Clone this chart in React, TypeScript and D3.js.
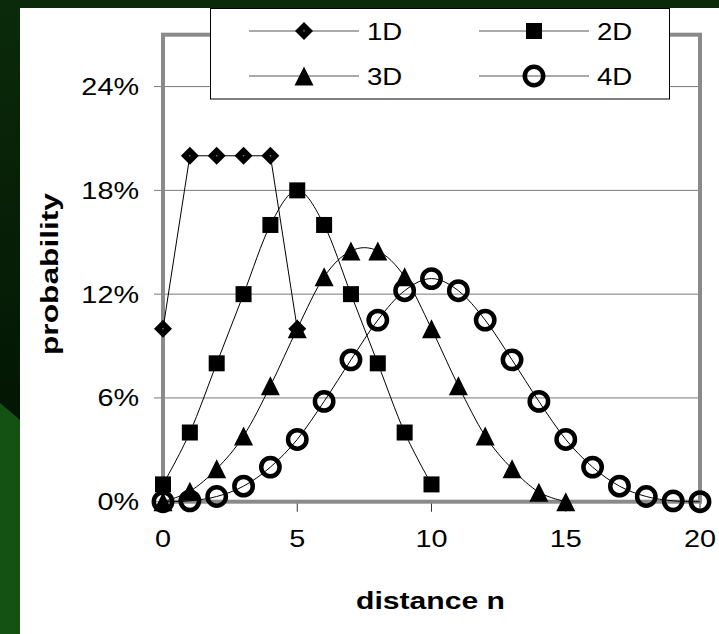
import React, { useEffect, useRef } from "react";
import * as d3 from "d3";

// probability (%) at distance n = 0, 1, 2, ...
const p1D = [10, 20, 20, 20, 20, 10];
const p2D = [1, 4, 8, 12, 16, 18, 16, 12, 8, 4, 1];
const p3D = [0, 0.6, 1.9, 3.8, 6.7, 10, 13, 14.5, 14.5, 13, 10, 6.7, 3.8, 1.9, 0.55, 0];
const p4D = [0, 0.05, 0.3, 0.9, 2.0, 3.6, 5.8, 8.2, 10.5, 12.2, 12.9, 12.2, 10.5, 8.2, 5.8, 3.6, 2.0, 0.9, 0.3, 0.05, 0];

const seriesNames = ["1D", "2D", "3D", "4D"];
const markerTypes = ["diamond", "square", "triangle", "circle"];
const yTicks = [0, 6, 12, 18, 24];
const xTicks = [0, 5, 10, 15, 20];

const W = 719;
const H = 634;
const FONT = "'Liberation Sans', Arial, sans-serif";

const App: React.FC = () => {
    const svgRef = useRef<SVGSVGElement | null>(null);

    useEffect(() => {
        if (!svgRef.current) return;
        const svg = d3.select(svgRef.current);
        svg.selectAll("*").remove();

        // background (slide)
        const defs = svg.append("defs");
        const grad = defs
            .append("linearGradient")
            .attr("id", "leftDark")
            .attr("x1", 0).attr("y1", 0).attr("x2", 0).attr("y2", 1);
        grad.append("stop").attr("offset", "0%").attr("stop-color", "#0b2a0b");
        grad.append("stop").attr("offset", "100%").attr("stop-color", "#031603");

        svg.append("rect").attr("width", W).attr("height", H).attr("fill", "#0a2a0a");
        svg.append("path")
            .attr("d", "M0,0 L20,0 L20,420 L0,403 Z")
            .attr("fill", "url(#leftDark)");
        svg.append("path")
            .attr("d", `M0,403 L20,420 L20,${H} L0,${H} Z`)
            .attr("fill", "#135213");
        svg.append("rect")
            .attr("x", 20).attr("y", 8)
            .attr("width", W - 20).attr("height", H - 8)
            .attr("fill", "#ffffff");

        const left = 163, right = 700, top = 34.7, bottom = 501.7;

        const x = d3.scaleLinear().domain([0, 20]).range([left, right]);
        const y = d3.scaleLinear().domain([0, 27]).range([bottom, top]);

        // gridlines + y ticks
        svg.append("g")
            .selectAll("line")
            .data(yTicks.filter((t) => t > 0))
            .join("line")
            .attr("x1", left - 9)
            .attr("x2", right)
            .attr("y1", (d) => y(d))
            .attr("y2", (d) => y(d))
            .attr("stroke", "#7a7a7a")
            .attr("stroke-width", 1);

        svg.append("line")
            .attr("x1", left - 9).attr("x2", left)
            .attr("y1", y(0)).attr("y2", y(0))
            .attr("stroke", "#7a7a7a");

        // x ticks
        svg.append("g")
            .selectAll("line")
            .data(xTicks)
            .join("line")
            .attr("x1", (d) => x(d))
            .attr("x2", (d) => x(d))
            .attr("y1", bottom)
            .attr("y2", bottom + 10)
            .attr("stroke", "#333")
            .attr("stroke-width", 1);

        // frame
        svg.append("rect")
            .attr("x", left).attr("y", top)
            .attr("width", right - left).attr("height", bottom - top)
            .attr("fill", "none")
            .attr("stroke", "#8a8a8a")
            .attr("stroke-width", 4);

        // tick labels
        svg.append("g")
            .selectAll("text")
            .data(yTicks)
            .join("text")
            .attr("transform", (d) => `translate(139,${y(d) + 8.5}) scale(1.2,1)`)
            .attr("text-anchor", "end")
            .attr("font-family", FONT)
            .attr("font-size", 24)
            .attr("fill", "#000")
            .text((d) => `${d}%`);

        svg.append("g")
            .selectAll("text")
            .data(xTicks)
            .join("text")
            .attr("transform", (d) => `translate(${x(d)},${bottom + 45}) scale(1.2,1)`)
            .attr("text-anchor", "middle")
            .attr("font-family", FONT)
            .attr("font-size", 24)
            .attr("fill", "#000")
            .text((d) => `${d}`);

        // axis titles
        svg.append("text")
            .attr("x", 430.5)
            .attr("y", 609)
            .attr("text-anchor", "middle")
            .attr("font-family", FONT)
            .attr("font-weight", "bold")
            .attr("font-size", 23)
            .attr("textLength", 149)
            .attr("lengthAdjust", "spacingAndGlyphs")
            .text("distance n");

        svg.append("text")
            .attr("transform", "translate(58,274) rotate(-90)")
            .attr("text-anchor", "middle")
            .attr("font-family", FONT)
            .attr("font-weight", "bold")
            .attr("font-size", 23)
            .attr("textLength", 162)
            .attr("lengthAdjust", "spacingAndGlyphs")
            .text("probability");

        // markers
        const drawMarker = (g: any, type: string, cx: number, cy: number) => {
            if (type === "diamond") {
                g.append("path")
                    .attr("d", `M${cx},${cy - 9} L${cx + 9},${cy} L${cx},${cy + 9} L${cx - 9},${cy} Z`)
                    .attr("fill", "#000");
                g.append("circle")
                    .attr("cx", cx).attr("cy", cy).attr("r", 0.8)
                    .attr("fill", "#888");
            } else if (type === "square") {
                g.append("rect")
                    .attr("x", cx - 8).attr("y", cy - 8)
                    .attr("width", 16).attr("height", 16)
                    .attr("fill", "#000");
            } else if (type === "triangle") {
                g.append("path")
                    .attr("d", `M${cx},${cy - 9.5} L${cx + 9.5},${cy + 9.5} L${cx - 9.5},${cy + 9.5} Z`)
                    .attr("fill", "#000");
            } else {
                g.append("circle")
                    .attr("cx", cx).attr("cy", cy).attr("r", 9.2)
                    .attr("fill", "none")
                    .attr("stroke", "#000")
                    .attr("stroke-width", 4.5);
            }
        };

        const allSeries = [p1D, p2D, p3D, p4D];
        allSeries.forEach((vals, i) => {
            const g = svg.append("g");
            const line = d3
                .line<number>()
                .x((_d, n) => x(n))
                .y((d) => y(d))
                .curve(i === 0 ? d3.curveLinear : d3.curveCardinal.tension(0));
            g.append("path")
                .datum(vals)
                .attr("d", line)
                .attr("fill", "none")
                .attr("stroke", "#000")
                .attr("stroke-width", 1);
            vals.forEach((v, n) => drawMarker(g, markerTypes[i], x(n), y(v)));
        });

        // legend
        const lg = svg.append("g");
        lg.append("rect")
            .attr("x", 210.5).attr("y", 8.5)
            .attr("width", 459).attr("height", 90.5)
            .attr("fill", "#fff")
            .attr("stroke", "#000")
            .attr("stroke-width", 1);
        const colX = [249, 479];
        const rowY = [31, 76];
        seriesNames.forEach((name, i) => {
            const lx = colX[i % 2];
            const ly = rowY[Math.floor(i / 2)];
            const eg = lg.append("g");
            eg.append("line")
                .attr("x1", lx).attr("x2", lx + 110)
                .attr("y1", ly).attr("y2", ly)
                .attr("stroke", "#555")
                .attr("stroke-width", 1);
            drawMarker(eg, markerTypes[i], lx + 55, ly);
            eg.append("text")
                .attr("transform", `translate(${lx + 118},${ly + 8.5}) scale(1.15,1)`)
                .attr("font-family", FONT)
                .attr("font-size", 24)
                .attr("fill", "#000")
                .text(name);
        });
    }, []);

    return (
        <svg
            ref={svgRef}
            width={W}
            height={H}
            style={{ position: "absolute", left: 0, top: 0, display: "block" }}
        ></svg>
    );
};

export default App;
